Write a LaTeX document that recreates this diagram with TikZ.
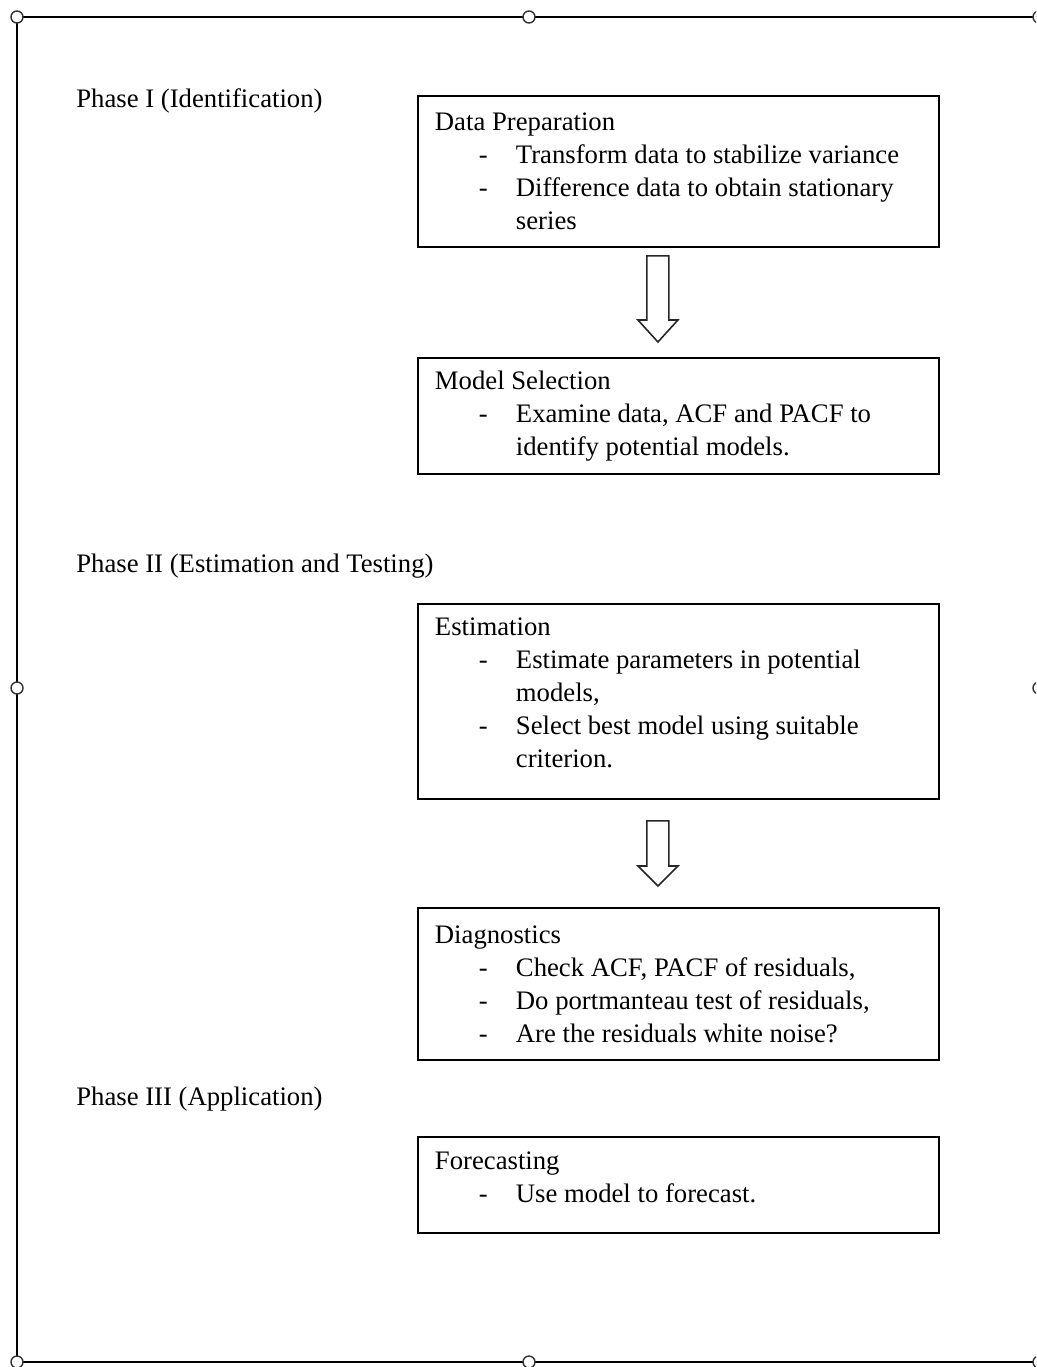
\documentclass[tikz,border=0pt]{standalone}
\usepackage{fontspec}
\setmainfont{Liberation Serif}
\usepackage{tikz}
\usetikzlibrary{calc}

\tikzset{
	stage/.style={draw, line width=1.1pt, anchor=north west, minimum width=10.42cm,
		text width=9.74cm, inner xsep=0.34cm, inner ysep=0pt, align=flush left,
		font=\fontsize{15.2pt}{18.8pt}\selectfont},
	phase/.style={anchor=base west, inner sep=0pt, font=\fontsize{15.2pt}{18.8pt}\selectfont},
	hollow/.style={draw=black!85, line width=0.9pt, fill=white, line join=miter},
	handle/.style={draw=black!80, line width=0.8pt, fill=white}
}
\newcommand{\dashitem}{\\\hspace*{0.88cm}\makebox[0.74cm][l]{-}}
\newcommand{\contline}{\\\hspace*{1.62cm}}
\newcommand{\lastpad}[1]{\rule[-#1]{0pt}{#1}}

\begin{document}
\begin{tikzpicture}[x=0.02cm,y=-0.02cm]
			\useasboundingbox (0,0) rectangle (1036,1367);
			\clip (0,0) rectangle (1036,1367);
			% Khung
			\draw [line width=1.2pt] (17,17) rectangle (1039,1362);
			\foreach \x/\y in {17/17,529/17,1039/17,17/688,1039/688,17/1362,529/1362,1039/1362}
			\draw [handle] (\x,\y) circle (0.12cm);
			% Các giai đoạn
			\node [phase] (ph1) at (76,107) {Phase I (Identification)};
			\node [phase] (ph2) at (76,572) {Phase II (Estimation and Testing)};
			\node [phase] (ph3) at (76,1105) {Phase III (Application)};
			% Các bước
			\node [stage, minimum height=3.02cm] (prep) at (417,95) {Data Preparation
				\dashitem Transform data to stabilize variance
				\dashitem Difference data to obtain stationary
				\contline series};
			\node [stage, minimum height=2.32cm] (sel) at (417,357) {Model Selection
				\dashitem Examine data, ACF and PACF to
				\contline identify potential models.};
			\node [stage, minimum height=3.9cm] (est) at (417,603) {Estimation
				\dashitem Estimate parameters in potential
				\contline models,
				\dashitem Select best model using suitable
				\contline criterion.\lastpad{0.34cm}};
			\node [stage, minimum height=3.04cm] (diag) at (417,907) {Diagnostics
				\dashitem Check ACF, PACF of residuals,
				\dashitem Do portmanteau test of residuals,
				\dashitem Are the residuals white noise?};
			\node [stage, minimum height=1.92cm] (fore) at (417,1136) {Forecasting
				\dashitem Use model to forecast.\lastpad{0.32cm}};
			% Mũi tên
			\coordinate (t1) at ($(prep.south)+(-20.5,8)$);
			\coordinate (p1) at ($(sel.north)+(-20.5,-15)$);
			\draw [hollow] ($(t1)+(-11,0)$) -- ($(t1)+(11,0)$) -- ($(p1)+(11,-22)$) -- ($(p1)+(20,-22)$)
				-- (p1) -- ($(p1)+(-20,-22)$) -- ($(p1)+(-11,-22)$) -- cycle;
			\coordinate (t2) at ($(est.south)+(-20.5,21)$);
			\coordinate (p2) at ($(diag.north)+(-20.5,-21)$);
			\draw [hollow] ($(t2)+(-11,0)$) -- ($(t2)+(11,0)$) -- ($(p2)+(11,-20)$) -- ($(p2)+(20,-20)$)
				-- (p2) -- ($(p2)+(-20,-20)$) -- ($(p2)+(-11,-20)$) -- cycle;
\end{tikzpicture}
\end{document}
